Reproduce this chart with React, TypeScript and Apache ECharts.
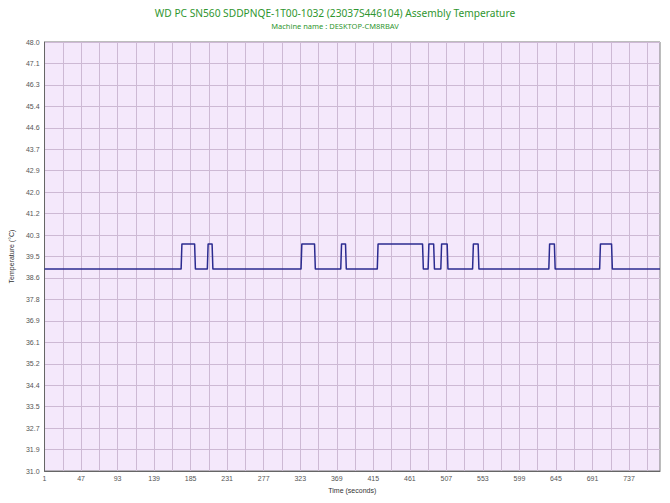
import React, { useEffect, useRef } from "react";
import * as echarts from "echarts";

// Change points of the temperature trace (seconds, °C)
const timeSec = [1, 173, 174, 190, 191, 206, 207, 212, 213, 324, 325, 341, 342, 374, 375, 380, 381, 420, 421, 477, 478, 484, 485, 491, 492, 500, 501, 508, 509, 540, 541, 547, 548, 636, 637, 643, 644, 700, 701, 715, 716, 776];
const tempC = [39, 39, 40, 40, 39, 39, 40, 40, 39, 39, 40, 40, 39, 39, 40, 40, 39, 39, 40, 40, 39, 39, 40, 40, 39, 39, 40, 40, 39, 39, 40, 40, 39, 39, 40, 40, 39, 39, 40, 40, 39, 39];

const yTickValues = [31, 31.85, 32.7, 33.55, 34.4, 35.25, 36.1, 36.95, 37.8, 38.65, 39.5, 40.35, 41.2, 42.05, 42.9, 43.75, 44.6, 45.45, 46.3, 47.15, 48];
const yTickLabels = ["31.0", "31.9", "32.7", "33.5", "34.4", "35.2", "36.1", "36.9", "37.8", "38.6", "39.5", "40.3", "41.2", "42.0", "42.9", "43.7", "44.6", "45.4", "46.3", "47.1", "48.0"];
const xLabelValues = [1, 47, 93, 139, 185, 231, 277, 323, 369, 415, 461, 507, 553, 599, 645, 691, 737];
const xGridValues = [1, 24, 47, 70, 93, 116, 139, 162, 185, 208, 231, 254, 277, 300, 323, 346, 369, 392, 415, 438, 461, 484, 507, 530, 553, 576, 599, 622, 645, 668, 691, 714, 737, 760];

const titleText = "WD PC SN560 SDDPNQE-1T00-1032 (23037S446104) Assembly Temperature";
const subText = "Machine name : DESKTOP-CM8RBAV";

export default function App() {
  const ref = useRef<HTMLDivElement>(null);
  useEffect(() => {
    if (!ref.current) return;
    const chart = echarts.init(ref.current, null, { renderer: "svg" });
    const font = "'Noto Sans', 'DejaVu Sans', sans-serif";
    const tickFont = "'Liberation Sans', Arial, sans-serif";
    chart.setOption({
      animation: false,
      backgroundColor: "#ffffff",
      textStyle: { fontFamily: font },
      title: {
        text: titleText,
        subtext: subText,
        left: "center",
        top: 3,
        itemGap: 4,
        textStyle: { fontSize: 10.2, fontWeight: "normal", color: "#2F962F", fontFamily: font },
        subtextStyle: { fontSize: 7.5, color: "#2F962F", fontFamily: font },
      },
      grid: {
        left: 42,
        top: 42,
        right: 10,
        bottom: 32,
        show: true,
        backgroundColor: "#F4E8FB",
        borderColor: "#7a7a7a",
        borderWidth: 1,
      },
      xAxis: {
        type: "value",
        min: 1,
        max: 776,
        name: "Time (seconds)",
        nameLocation: "middle",
        nameGap: 12,
        nameTextStyle: { fontSize: 7, color: "#333", fontFamily: tickFont },
        axisLine: { show: true, lineStyle: { color: "#666", width: 1 } },
        axisTick: { show: false, customValues: xGridValues },
        axisLabel: {
          customValues: xLabelValues,
          fontSize: 7,
          color: "#555",
          margin: 4,
          fontFamily: tickFont,
          formatter: (v: number) => String(Math.round(v)),
        },
        splitLine: { show: true, lineStyle: { color: "#CDB9D4", width: 1 } },
      },
      yAxis: {
        type: "value",
        min: 31,
        max: 48,
        name: "Temperature (°C)",
        nameLocation: "middle",
        nameGap: 25,
        nameTextStyle: { fontSize: 7, color: "#333", fontFamily: tickFont },
        axisLine: { show: true, lineStyle: { color: "#666", width: 1 } },
        axisTick: { show: false, customValues: yTickValues },
        axisLabel: {
          customValues: yTickValues,
          fontSize: 7,
          color: "#555",
          margin: 5,
          fontFamily: tickFont,
          formatter: (v: number) => {
            let best = 0;
            for (let i = 1; i < yTickValues.length; i++) {
              if (Math.abs(yTickValues[i] - v) < Math.abs(yTickValues[best] - v)) best = i;
            }
            return yTickLabels[best];
          },
        },
        splitLine: { show: true, lineStyle: { color: "#CDB9D4", width: 1 } },
      },
      series: [
        {
          type: "line",
          data: timeSec.map((t, i) => [t, tempC[i]]),
          showSymbol: false,
          symbol: "none",
          lineStyle: { color: "#2B2B90", width: 1.5 },
          silent: true,
        },
      ],
    });
    return () => chart.dispose();
  }, []);
  return (
    <div
      ref={ref}
      style={{ position: "absolute", left: 0, top: 0, width: 670, height: 503 }}
    />
  );
}
